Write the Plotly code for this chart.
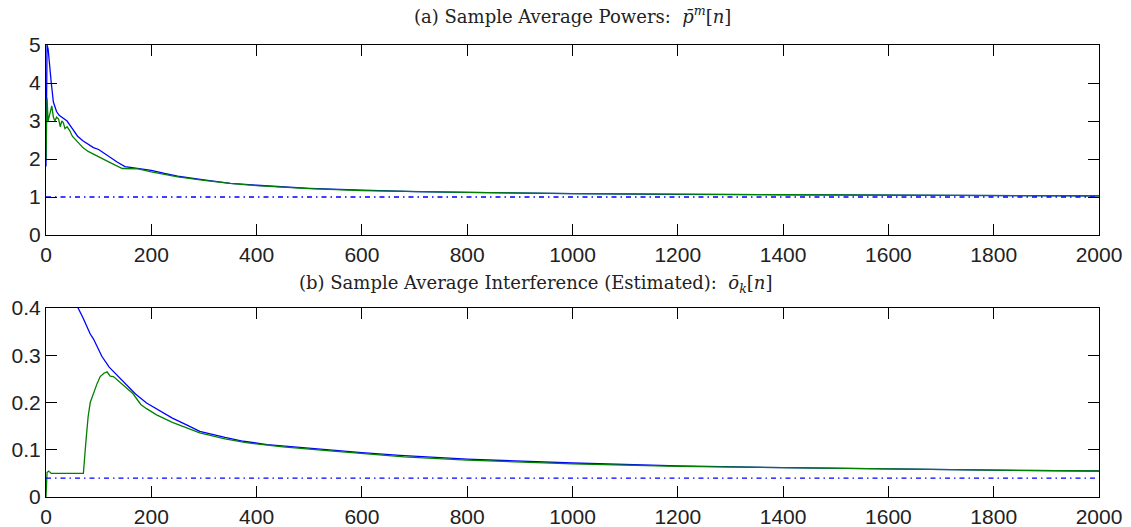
import plotly.graph_objects as go
from plotly.subplots import make_subplots

# (a) sample average powers
n_pow_blue = [0, 2, 4, 7, 10, 14, 20, 25, 30, 40, 50, 60, 70, 80, 90, 100, 110, 120, 135, 150, 175,
              200, 225, 250, 300, 350, 400, 450, 500, 600, 700, 800, 900, 1000, 1200, 1400, 1600, 1800, 2000]
p_blue = [1.8, 5.0, 4.9, 4.4, 4.0, 3.5, 3.25, 3.15, 3.1, 3.0, 2.8, 2.6, 2.48, 2.4, 2.3, 2.25, 2.15, 2.05, 1.92, 1.8, 1.75,
          1.7, 1.62, 1.55, 1.45, 1.36, 1.31, 1.27, 1.23, 1.18, 1.14, 1.12, 1.1, 1.09, 1.07, 1.06, 1.05, 1.04, 1.03]

n_pow_green = [0, 1, 2, 4, 6, 9, 11, 14, 17, 20, 24, 27, 30, 33, 36, 40, 45, 50, 60, 70, 80, 100, 120, 145,
               175, 200, 250, 300, 350, 400, 500, 600, 700, 800, 1000, 1200, 1400, 1600, 1800, 2000]
p_green = [2.0, 2.7, 3.6, 3.0, 3.1, 3.3, 3.4, 3.1, 3.0, 3.1, 3.05, 2.85, 3.0, 2.95, 2.8, 2.85, 2.75, 2.6, 2.45, 2.3, 2.2,
           2.05, 1.92, 1.75, 1.74, 1.66, 1.53, 1.44, 1.36, 1.3, 1.22, 1.17, 1.14, 1.12, 1.09, 1.07, 1.06, 1.05, 1.04, 1.03]

p_target = 1.0

# (b) sample average interference (estimated)
n_int_blue = [0, 10, 30, 50, 61, 70, 78, 84, 90, 97, 106, 120, 135, 150, 170, 191, 210, 240, 268, 292, 340, 375,
              420, 470, 545, 600, 672, 800, 1000, 1200, 1400, 1600, 1800, 2000]
o_blue = [0.9, 0.75, 0.55, 0.45, 0.4, 0.38, 0.36, 0.345, 0.335, 0.318, 0.298, 0.275, 0.258, 0.24, 0.218, 0.199, 0.186,
          0.167, 0.152, 0.139, 0.126, 0.118, 0.111, 0.106, 0.099, 0.094, 0.088, 0.08, 0.072, 0.066, 0.062, 0.059,
          0.057, 0.055]

n_int_green = [0, 2, 5, 10, 20, 40, 60, 71, 76, 80, 84, 90, 97, 103, 110, 116, 122, 128, 135, 150, 165, 180, 191, 210,
               240, 292, 340, 380, 450, 545, 620, 680, 800, 1000, 1200, 1400, 1600, 1800, 2000]
o_green = [0.0, 0.052, 0.055, 0.05, 0.05, 0.05, 0.05, 0.05, 0.12, 0.17, 0.2, 0.22, 0.24, 0.255, 0.262, 0.265, 0.256,
           0.255, 0.248, 0.234, 0.219, 0.196, 0.187, 0.174, 0.158, 0.136, 0.123, 0.115, 0.106, 0.097, 0.09, 0.085,
           0.078, 0.07, 0.065, 0.062, 0.059, 0.057, 0.055]

o_target = 0.04

n_span = [0, 2000]

BLUE = "#0000ff"
GREEN = "#008000"
DASHDOT = "5px,4px,1.5px,4px"

fig = make_subplots(rows=2, cols=1, vertical_spacing=0.16)

fig.add_trace(go.Scatter(x=n_pow_blue, y=p_blue, mode="lines", line=dict(color=BLUE, width=1.3)), row=1, col=1)
fig.add_trace(go.Scatter(x=n_pow_green, y=p_green, mode="lines", line=dict(color=GREEN, width=1.3)), row=1, col=1)
fig.add_trace(go.Scatter(x=n_span, y=[p_target, p_target], mode="lines",
                         line=dict(color=BLUE, width=1.3, dash=DASHDOT)), row=1, col=1)

fig.add_trace(go.Scatter(x=n_int_blue, y=o_blue, mode="lines", line=dict(color=BLUE, width=1.3)), row=2, col=1)
fig.add_trace(go.Scatter(x=n_int_green, y=o_green, mode="lines", line=dict(color=GREEN, width=1.3)), row=2, col=1)
fig.add_trace(go.Scatter(x=n_span, y=[o_target, o_target], mode="lines",
                         line=dict(color=BLUE, width=1.3, dash=DASHDOT)), row=2, col=1)

axis_style = dict(showline=True, linecolor="black", linewidth=1.2, mirror="allticks",
                  ticks="inside", ticklen=11, tickwidth=1.2, tickcolor="black",
                  showgrid=False, zeroline=False, automargin=False,
                  tickfont=dict(family="Liberation Sans, Arial", size=21, color="#222"))

fig.update_xaxes(range=[0, 2000], dtick=200, ticklabelstandoff=1, **axis_style)
fig.update_yaxes(range=[0, 5], dtick=1, row=1, col=1, **axis_style)
fig.update_yaxes(range=[0, 0.4], dtick=0.1, row=2, col=1, **axis_style)

fig.update_layout(
    width=1131, height=527,
    margin=dict(l=46, r=32, t=45, b=30),
    plot_bgcolor="white", paper_bgcolor="white",
    showlegend=False,
    yaxis=dict(domain=[0.5796, 1.0]),
    yaxis2=dict(domain=[0.0, 0.418]),
)

title_font = dict(family="DejaVu Serif, Liberation Serif, serif", size=18, color="#222")
fig.add_annotation(text="(a) Sample Average Powers:  <i>p̄</i><sup><i>m</i></sup>[<i>n</i>]",
                   xref="paper", yref="paper", x=0.5, y=1.0, yshift=30, yanchor="middle",
                   showarrow=False, font=title_font)
fig.add_annotation(text="(b) Sample Average Interference (Estimated):  <i>ō</i><sub><i>k</i></sub>[<i>n</i>]",
                   xref="paper", yref="paper", x=0.465, y=0.418, yshift=24, yanchor="middle",
                   showarrow=False, font=title_font)

# drop the default 8px body margin so the full-size figure fits the window
fig.write_html("out.html", config={"displayModeBar": False},
               post_script="document.body.style.margin='0';")
